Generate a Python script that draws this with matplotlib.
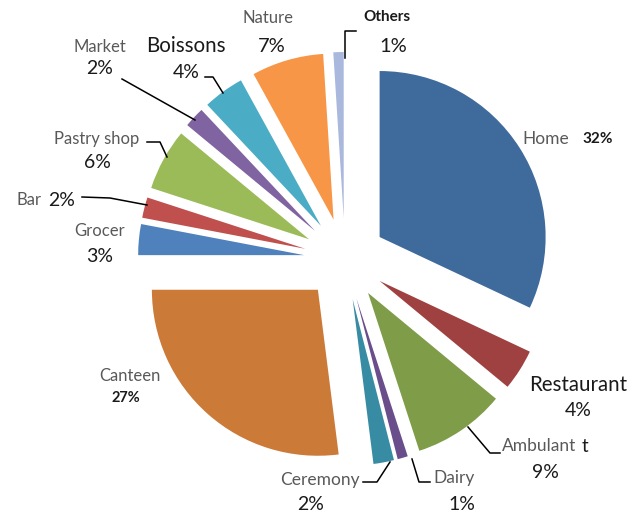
import matplotlib
matplotlib.use("Agg")
import matplotlib.pyplot as plt

plt.rcParams['font.family'] = ['Lato', 'DejaVu Sans']

categories = ["Home", "Restaurant", "Ambulant", "Dairy", "Ceremony", "Canteen",
              "Grocer", "Bar", "Pastry shop", "Market", "Boissons", "Nature", "Others"]
values = [32, 4, 9, 1, 2, 27, 3, 2, 6, 2, 4, 7, 1]
colors = ["#3F6A9C", "#9E4140", "#7F9C48", "#6A4E8C", "#378CA3", "#CC7A38",
          "#4F81BD", "#C0504D", "#9BBB59", "#8064A2", "#4BACC6", "#F79646", "#A9B8DC"]

W, H = 630, 515
fig = plt.figure(figsize=(W / 100, H / 100), dpi=100)
ax = fig.add_axes([0, 0, 1, 1])

R = 166
cx, cy = 345, H - 259
ax.pie(values, colors=colors, startangle=90, counterclock=False,
       radius=R, center=(cx, cy), explode=[41] * len(values),
       wedgeprops=dict(linewidth=0))

ax.set_xlim(0, W)
ax.set_ylim(0, H)
ax.set_aspect('equal')
ax.axis('off')

def P(x, y):
    return (x, H - y)

gray = "#595959"
blk = "#1a1a1a"

def txt(x, y, s, size, color=gray, weight='normal', ha='center'):
    ax.text(*P(x, y), s, fontsize=size, color=color, fontweight=weight,
            ha=ha, va='center')

# labels
txt(268, 18, "Nature", 12)
txt(272, 47, "7%", 14.5, blk)
txt(387, 17, "Others", 11, blk, 'bold')
txt(393, 47, "1%", 14.5, blk)
txt(100, 47, "Market", 12)
txt(100, 68, "2%", 14, blk)
txt(186, 46, "Boissons", 14.8, blk)
txt(186, 72, "4%", 14, blk)
txt(97, 139, "Pastry shop", 12)
txt(97, 163, "6%", 14, blk)
txt(29, 200, "Bar", 12)
txt(62, 200, "2%", 14, blk)
txt(100, 231, "Grocer", 12)
txt(100, 256, "3%", 14, blk)
txt(546, 139, "Home", 12.5)
txt(598, 139, "32%", 11, blk, 'bold')
txt(578, 385, "Restaurant", 14.8, blk)
txt(578, 411, "4%", 14, blk)
txt(539, 446, "Ambulant", 12.5)
txt(585, 446, "t", 13.5, blk)
txt(545, 473, "9%", 14, blk)
txt(454, 478, "Dairy", 12.5)
txt(462, 505, "1%", 14, blk)
txt(320, 480, "Ceremony", 12.5)
txt(311, 505, "2%", 14, blk)
txt(130, 376, "Canteen", 12)
txt(126, 398, "27%", 10.5, blk, 'bold')

# leader lines
leaders = [
    [(345, 58), (345, 31), (356, 31)],
    [(122, 79), (195, 120)],
    [(205, 77), (213, 77), (223, 93)],
    [(147, 142), (160, 142), (167, 157)],
    [(82, 197), (110, 198), (147, 205)],
    [(468, 427), (490, 453), (500, 453)],
    [(390, 462), (377, 482), (363, 482)],
    [(412, 459), (419, 482), (430, 482)],
]
for pts in leaders:
    xs = [p[0] for p in pts]
    ys = [H - p[1] for p in pts]
    ax.plot(xs, ys, color="black", linewidth=1.1)

fig.savefig("out.png", dpi=100)
